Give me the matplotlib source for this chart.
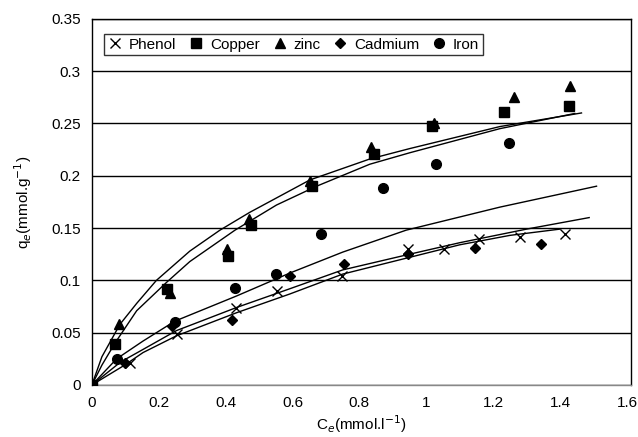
import matplotlib
matplotlib.use("Agg")
import matplotlib.pyplot as plt
from matplotlib.ticker import FuncFormatter

plt.rcParams['font.family'] = ['Liberation Sans', 'DejaVu Sans']

# measured points
phenol_x = [0, 0.113, 0.256, 0.43, 0.554, 0.747, 0.946, 1.054, 1.158, 1.28, 1.414]
phenol_y = [0, 0.021, 0.049, 0.074, 0.090, 0.104, 0.130, 0.130, 0.140, 0.141, 0.144]
copper_x = [0, 0.068, 0.226, 0.408, 0.476, 0.658, 0.845, 1.018, 1.232, 1.426]
copper_y = [0, 0.039, 0.092, 0.123, 0.153, 0.190, 0.221, 0.248, 0.261, 0.267]
zinc_x = [0, 0.080, 0.235, 0.405, 0.47, 0.652, 0.836, 1.024, 1.262, 1.43]
zinc_y = [0, 0.058, 0.088, 0.130, 0.159, 0.195, 0.227, 0.250, 0.275, 0.286]
cadmium_x = [0, 0.098, 0.241, 0.42, 0.592, 0.753, 0.946, 1.146, 1.342]
cadmium_y = [0, 0.021, 0.056, 0.062, 0.104, 0.116, 0.125, 0.131, 0.135]
iron_x = [0, 0.074, 0.25, 0.428, 0.55, 0.685, 0.872, 1.03, 1.247]
iron_y = [0, 0.025, 0.060, 0.093, 0.106, 0.144, 0.188, 0.211, 0.231]

# fitted curves
fit_zinc_x = [0, 0.03, 0.084, 0.134, 0.193, 0.293, 0.383, 0.472, 0.652, 0.831, 0.951, 1.22, 1.464]
fit_zinc_y = [0, 0.027, 0.058, 0.078, 0.100, 0.128, 0.148, 0.165, 0.196, 0.216, 0.226, 0.247, 0.260]
fit_copper_x = [0, 0.03, 0.069, 0.134, 0.223, 0.293, 0.383, 0.428, 0.552, 0.672, 0.831, 0.951, 1.22, 1.444]
fit_copper_y = [0, 0.019, 0.040, 0.071, 0.098, 0.118, 0.138, 0.148, 0.172, 0.190, 0.211, 0.222, 0.245, 0.2595]
fit_iron_x = [0, 0.074, 0.153, 0.248, 0.432, 0.592, 0.75, 0.94, 1.22, 1.509]
fit_iron_y = [0, 0.025, 0.042, 0.061, 0.085, 0.107, 0.127, 0.148, 0.170, 0.190]
fit_cadmium_x = [0, 0.086, 0.153, 0.253, 0.432, 0.592, 0.75, 0.95, 1.1, 1.3, 1.487]
fit_cadmium_y = [0, 0.022, 0.034, 0.052, 0.074, 0.092, 0.110, 0.125, 0.136, 0.149, 0.160]
fit_phenol_x = [0, 0.098, 0.153, 0.253, 0.432, 0.592, 0.75, 0.95, 1.1, 1.25, 1.40]
fit_phenol_y = [0, 0.019, 0.031, 0.047, 0.069, 0.087, 0.106, 0.122, 0.134, 0.143, 0.149]

fig = plt.figure(figsize=(6.38, 4.37), dpi=100)
ax = fig.add_axes([0.144, 0.119, 0.845, 0.838])

for fx, fy in [(fit_zinc_x, fit_zinc_y), (fit_copper_x, fit_copper_y),
               (fit_iron_x, fit_iron_y), (fit_cadmium_x, fit_cadmium_y),
               (fit_phenol_x, fit_phenol_y)]:
    ax.plot(fx, fy, color='black', linewidth=1.0, zorder=3)

ax.plot(phenol_x, phenol_y, 'x', color='black', ms=7.5, mew=1.0, label='Phenol', zorder=4)
ax.plot(copper_x, copper_y, 's', color='black', ms=7, label='Copper', zorder=4)
ax.plot(zinc_x, zinc_y, '^', color='black', ms=7, label='zinc', zorder=4)
ax.plot(cadmium_x, cadmium_y, 'D', color='black', ms=5, label='Cadmium', zorder=4)
ax.plot(iron_x, iron_y, 'o', color='black', ms=7, label='Iron', zorder=4)

ax.set_xlim(0, 1.612)
ax.set_ylim(0, 0.35)
ax.set_xticks([0, 0.2, 0.4, 0.6, 0.8, 1.0, 1.2, 1.4, 1.6])
ax.set_yticks([0, 0.05, 0.1, 0.15, 0.2, 0.25, 0.3, 0.35])
fmt = FuncFormatter(lambda v, p: '%g' % round(v, 2))
ax.xaxis.set_major_formatter(fmt)
ax.yaxis.set_major_formatter(fmt)
ax.tick_params(length=0, labelsize=11, pad=8)
ax.yaxis.grid(True, color='black', linewidth=1.0)
ax.set_axisbelow(True)
for s in ax.spines.values():
    s.set_linewidth(1.0)
ax.spines['bottom'].set_color('#888888')

ax.set_xlabel('C$_e$(mmol.l$^{-1}$)', fontsize=11, labelpad=2)
ax.set_ylabel('q$_e$(mmol.g$^{-1}$)', fontsize=11, labelpad=12)

leg = ax.legend(loc='upper left', ncol=5, fontsize=11, frameon=True, fancybox=False,
                edgecolor='black', handlelength=1.0, handletextpad=0.4, columnspacing=0.8,
                borderpad=0.25, bbox_to_anchor=(0.008, 0.98))
leg.get_frame().set_linewidth(1.0)

plt.savefig('out.png', dpi=100)
